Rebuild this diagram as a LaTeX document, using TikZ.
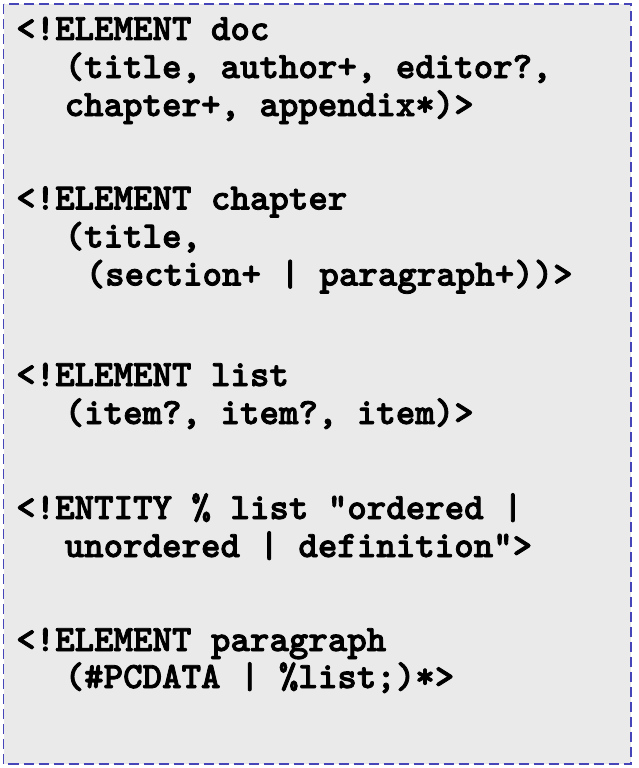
\documentclass[tikz,border=0pt]{standalone}
\usepackage{fontspec}
\newfontfamily\codefont{lmmonolt10-bold.otf}[FakeBold=2.2]
\usepackage{tikz}
\usetikzlibrary{calc}
\definecolor{boxgray}{HTML}{EAEAEA}
\definecolor{boxblue}{HTML}{4646B8}
\tikzset{
	% Two styles for the listing: the frame and one line of code
	frame box/.style={draw=boxblue,fill=boxgray,line width=1.3pt,dash pattern=on 10pt off 5pt},
	code line/.style={anchor=base west,inner sep=0,font=\codefont\fontsize{37.1}{44}\selectfont}
}

\begin{document}
\begin{tikzpicture}[x=1pt,y=-1pt]
			\useasboundingbox (0,0) rectangle (639,768);
			\draw[frame box] (3.5,4) rectangle (631,764);
			
			% element doc
			\node(doc1)[code line] at (16,40) {<!ELEMENT doc};
			\node(doc2)[code line] at (64.5,78) {(title, author+, editor?,};
			\node(doc3)[code line] at (64.5,116) {chapter+, appendix*)>};
			
			% element chapter
			\node(chap1)[code line] at (16,209.5) {<!ELEMENT chapter};
			\node(chap2)[code line] at (64.5,247.5) {(title,};
			\node(chap3)[code line] at (85.5,285.5) {(section+ | paragraph+))>};
			
			% element list
			\node(list1)[code line] at (16,386) {<!ELEMENT list};
			\node(list2)[code line] at (64.5,424) {(item?, item?, item)>};
			
			% entity list
			\node(ent1)[code line] at (16,519) {<!ENTITY \% list "ordered |};
			\node(ent2)[code line] at (64.5,557) {unordered | definition">};
			
			% element paragraph
			\node(par1)[code line] at (16,651) {<!ELEMENT paragraph};
			\node(par2)[code line] at (64.5,688) {(\#PCDATA | \%list;)*>};
		\end{tikzpicture}
\end{document}
